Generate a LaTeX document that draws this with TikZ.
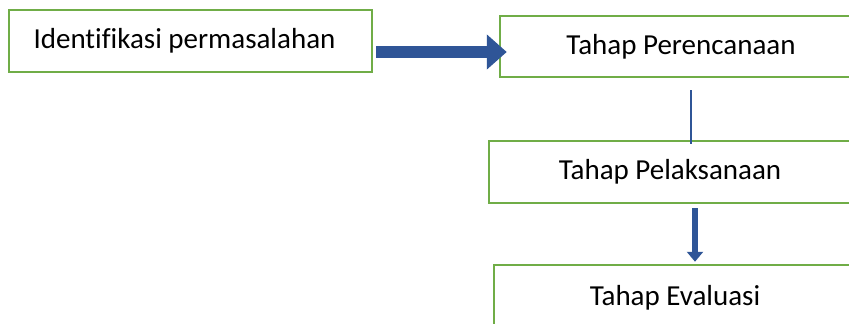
\documentclass[tikz,border=0pt]{standalone}
\usepackage{fontspec}
\setmainfont{Carlito}[Ligatures={NoCommon,NoContextual}]
\usetikzlibrary{arrows.meta,calc}
\definecolor{boxgreen}{RGB}{112,173,71}
\definecolor{arrowblue}{RGB}{47,85,151}
\begin{document}
\begin{tikzpicture}[x=1pt,y=-1pt,
  stepbox/.style={draw=boxgreen,line width=2.5pt,fill=white,minimum width=363pt,minimum height=62pt,inner sep=0pt,font=\fontsize{29}{34}\selectfont,text=black},
  bigarrow/.style={draw=arrowblue,line width=12pt,-{Triangle[length=20pt,width=34pt]}},
  midarrow/.style={draw=arrowblue,line width=6.5pt,-{Triangle[length=10pt,width=16pt]}},
  thinline/.style={draw=arrowblue,line width=2.2pt}]
\clip (0,0) rectangle (849,324);
\fill[white] (0,0) rectangle (849,324);
\node[stepbox] (b1) at (190.5,41) {\hspace*{-12pt}Identifikasi permasalahan};
\node[stepbox,minimum width=362pt,minimum height=61pt] (b2) at (681,46.5) {Tahap Perencanaan};
\node[stepbox,minimum width=362pt,minimum height=62pt] (b3) at (670,172) {Tahap Pelaksanaan};
\node[stepbox,minimum width=362pt,minimum height=66pt] (b4) at (675,298) {Tahap Evaluasi};
\draw[bigarrow] ($(b1.east)+(3,11)$) -- ($(b2.west)+(8,5.5)$);
\draw[thinline] ($(b2.south)+(10,12)$) -- ($(b3.north)+(21,4)$);
\draw[midarrow] ($(b3.south)+(25,4)$) -- ($(b4.north)+(20,-2)$);
\end{tikzpicture}
\end{document}
